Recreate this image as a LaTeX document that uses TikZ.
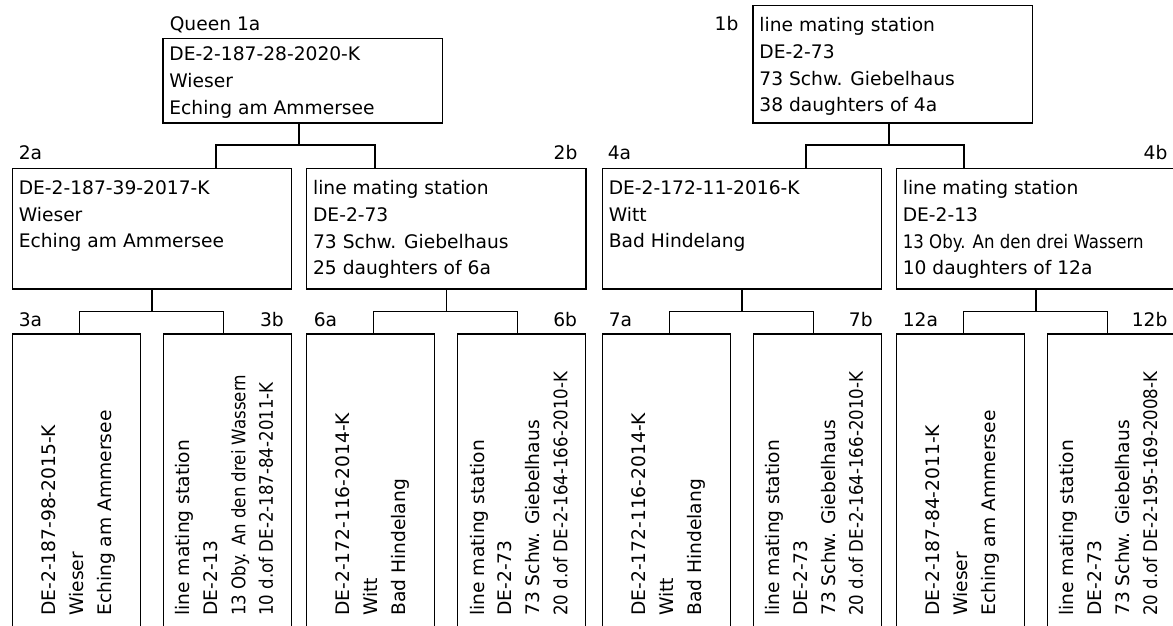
\documentclass[tikz,border=0pt]{standalone}
\usepackage{fontspec}
\setmainfont{DejaVu Sans}
\tikzset{bee/.style = {draw, rectangle, inner sep = 0, anchor = north west, minimum width = 209.6pt, minimum height = 90.5pt}}
\tikzset{cell/.style = {bee, minimum width = 96pt, minimum height = 300pt}}
\tikzset{info/.style = {anchor = north west, align = left, inner sep = 0, font = \fontsize{14}{20}\selectfont}}
\tikzset{side/.style = {info, rotate = 90, font = \fontsize{14}{20.8}\selectfont}}
\tikzset{tagw/.style = {anchor = base west, inner sep = 0, font = \fontsize{14}{20}\selectfont}}
\tikzset{tage/.style = {anchor = base east, inner sep = 0, font = \fontsize{14}{20}\selectfont}}
\newcommand{\narrow}[1]{\scalebox{0.89}[1]{#1}}

\begin{document}
\begin{tikzpicture}[x = 0.75pt, y = -0.75pt, line width = 0.9pt]
  \useasboundingbox (0, 0) rectangle (1173, 625);
  \clip (0, 0) rectangle (1173, 625);

  % queens
  \node [bee, minimum height = 63.5pt] (q1a) at (162.3, 37.7) {};
  \node [bee, minimum height = 88pt] (q1b) at (752.3, 5) {};
  \node [tagw] (n1a) at (169.2, 30.8) {Queen 1a};
  \node [tage] (n1b) at (739, 30.8) {1b};
  \node [info] (t1a) at (168.8, 46.5) {DE-2-187-28-2020-K\\Wieser\\Eching am Ammersee};
  \node [info] (t1b) at (758.8, 17) {line mating station\\DE-2-73\\73 Schw. Giebelhaus\\38 daughters of 4a};

  % parents
  \node [bee] (q2a) at (11.7, 167.7) {};
  \node [bee] (q2b) at (306, 167.7) {};
  \node [bee] (q4a) at (601.7, 167.7) {};
  \node [bee] (q4b) at (895.7, 167.7) {};
  \node [tagw] (n2a) at (18.2, 159.5) {2a};
  \node [tage] (n2b) at (578, 159.5) {2b};
  \node [tagw] (n4a) at (607.2, 159.5) {4a};
  \node [tage] (n4b) at (1168, 159.5) {4b};
  \node [info] (t2a) at (18.2, 180.2) {DE-2-187-39-2017-K\\Wieser\\Eching am Ammersee};
  \node [info] (t2b) at (312.5, 180.2) {line mating station\\DE-2-73\\73 Schw. Giebelhaus\\25 daughters of 6a};
  \node [info] (t4a) at (608.2, 180.2) {DE-2-172-11-2016-K\\Witt\\Bad Hindelang};
  \node [info] (t4b) at (902.2, 180.2) {line mating station\\DE-2-13\\\narrow{13 Oby. An den drei Wassern}\\10 daughters of 12a};

  % grandparents
  \node [cell] (q3a) at (11.7, 333.3) {};
  \node [cell] (q3b) at (162.7, 333.3) {};
  \node [cell] (q6a) at (306, 333.3) {};
  \node [cell] (q6b) at (457, 333.3) {};
  \node [cell] (q7a) at (601.7, 333.3) {};
  \node [cell] (q7b) at (752.7, 333.3) {};
  \node [cell] (q12a) at (895.7, 333.3) {};
  \node [cell] (q12b) at (1046.7, 333.3) {};
  \node [tagw] (n3a) at (18.2, 326.8) {3a};
  \node [tage] (n3b) at (284.4, 326.8) {3b};
  \node [tagw] (n6a) at (313.2, 326.8) {6a};
  \node [tage] (n6b) at (577.6, 326.8) {6b};
  \node [tagw] (n7a) at (608.2, 326.8) {7a};
  \node [tage] (n7b) at (873.3, 326.8) {7b};
  \node [tagw] (n12a) at (902.2, 326.8) {12a};
  \node [tage] (n12b) at (1168, 326.8) {12b};
  \node [side] (t3a) at (41.2, 616.3) {DE-2-187-98-2015-K\\Wieser\\Eching am Ammersee};
  \node [side] (t3b) at (175, 616.3) {line mating station\\DE-2-13\\\narrow{13 Oby. An den drei Wassern}\\\narrow{10 d.of DE-2-187-84-2011-K}};
  \node [side] (t6a) at (335.5, 616.3) {DE-2-172-116-2014-K\\Witt\\Bad Hindelang};
  \node [side] (t6b) at (469.3, 616.3) {line mating station\\DE-2-73\\73 Schw. Giebelhaus\\\narrow{20 d.of DE-2-164-166-2010-K}};
  \node [side] (t7a) at (631.2, 616.3) {DE-2-172-116-2014-K\\Witt\\Bad Hindelang};
  \node [side] (t7b) at (765, 616.3) {line mating station\\DE-2-73\\73 Schw. Giebelhaus\\\narrow{20 d.of DE-2-164-166-2010-K}};
  \node [side] (t12a) at (925.2, 616.3) {DE-2-187-84-2011-K\\Wieser\\Eching am Ammersee};
  \node [side] (t12b) at (1059, 616.3) {line mating station\\DE-2-73\\73 Schw. Giebelhaus\\\narrow{20 d.of DE-2-195-169-2008-K}};

  % links
  \coordinate (j1a) at (299, 145);
  \coordinate (l1a) at (216, 145);
  \coordinate (r1a) at (375, 145);
  \draw (q1a.south -| j1a) -- (j1a);
  \draw (q2a.north -| l1a) |- (r1a) -- (q2b.north -| r1a);

  \coordinate (j1b) at (889, 145);
  \coordinate (l1b) at (806, 145);
  \coordinate (r1b) at (964, 145);
  \draw (q1b.south -| j1b) -- (j1b);
  \draw (q4a.north -| l1b) |- (r1b) -- (q4b.north -| r1b);

  \coordinate (l2a) at (79.45, 311.7);
  \coordinate (r2a) at (223.45, 311.7);
  \draw (q2a.south) -- (q2a.south |- l2a);
  \draw (q3a.north -| l2a) |- (r2a) -- (q3b.north -| r2a);

  \coordinate (l2b) at (373.75, 311.7);
  \coordinate (r2b) at (517.75, 311.7);
  \draw (q2b.south) -- (q2b.south |- l2b);
  \draw (q6a.north -| l2b) |- (r2b) -- (q6b.north -| r2b);

  \coordinate (l4a) at (669.45, 311.7);
  \coordinate (r4a) at (813.45, 311.7);
  \draw (q4a.south) -- (q4a.south |- l4a);
  \draw (q7a.north -| l4a) |- (r4a) -- (q7b.north -| r4a);

  \coordinate (l4b) at (963.45, 311.7);
  \coordinate (r4b) at (1107.45, 311.7);
  \draw (q4b.south) -- (q4b.south |- l4b);
  \draw (q12a.north -| l4b) |- (r4b) -- (q12b.north -| r4b);
\end{tikzpicture}
\end{document}
